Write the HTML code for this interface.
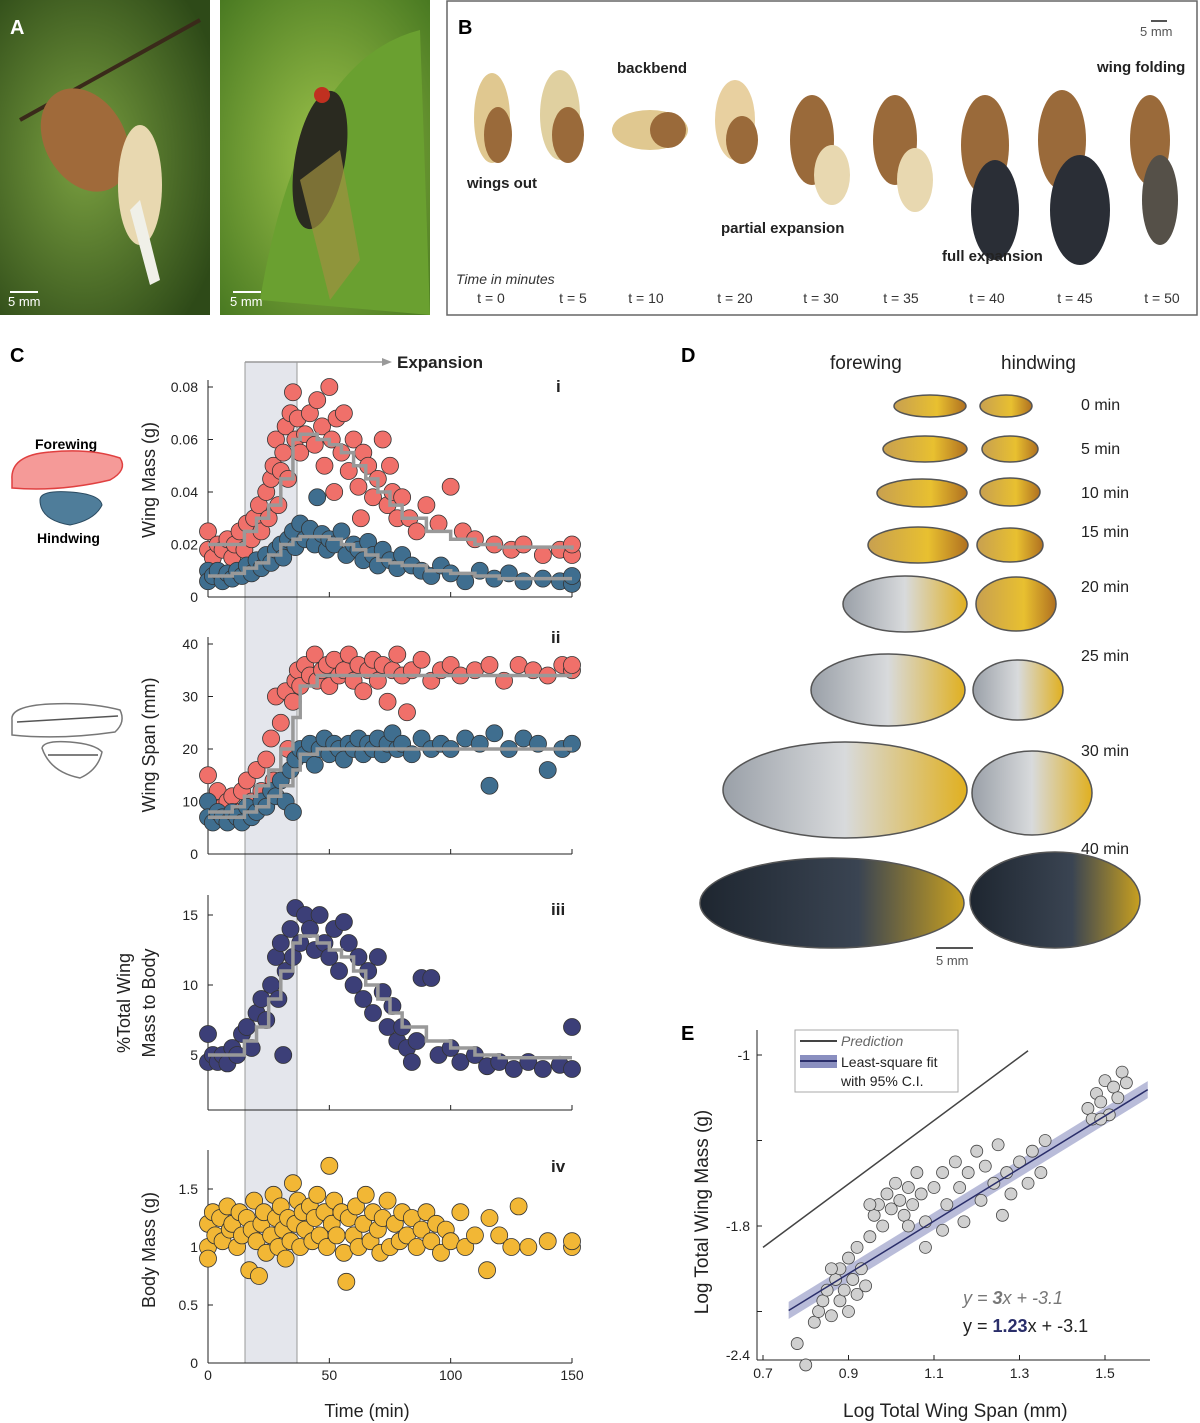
<!DOCTYPE html>
<html><head><meta charset="utf-8"><style>
body{margin:0;background:#fff;}
svg{display:block;font-family:"Liberation Sans",Arial,sans-serif;}
</style></head><body>
<svg id="fig" width="1200" height="1423" viewBox="0 0 1200 1423" xmlns="http://www.w3.org/2000/svg">
<defs>
<radialGradient id="g1" cx="0.4" cy="0.5" r="0.7"><stop offset="0" stop-color="#7aa040"/><stop offset="1" stop-color="#2e4a18"/></radialGradient>
<radialGradient id="g2" cx="0.5" cy="0.5" r="0.7"><stop offset="0" stop-color="#9cc24a"/><stop offset="1" stop-color="#4a7a22"/></radialGradient>
<linearGradient id="wingD" x1="0" x2="1"><stop offset="0" stop-color="#1e2630"/><stop offset="0.6" stop-color="#3a4452"/><stop offset="1" stop-color="#c8a020"/></linearGradient>
<linearGradient id="wingS" x1="0" x2="1"><stop offset="0" stop-color="#9aa0a8"/><stop offset="0.5" stop-color="#d8dadc"/><stop offset="1" stop-color="#e0b020"/></linearGradient>
<linearGradient id="wingY" x1="0" x2="1"><stop offset="0" stop-color="#c8a050"/><stop offset="0.6" stop-color="#e8c030"/><stop offset="1" stop-color="#b07020"/></linearGradient>
</defs>
<!-- Panel A -->
<g>
<rect x="0" y="0" width="210" height="315" fill="url(#g1)"/>
<path d="M20 120 L200 20" stroke="#3a2a1a" stroke-width="4"/>
<ellipse cx="85" cy="140" rx="40" ry="55" fill="#a06a3a" transform="rotate(-30 85 140)"/>
<ellipse cx="140" cy="185" rx="22" ry="60" fill="#e8d8b0"/>
<path d="M140 200 L160 280 L150 285 L130 210 Z" fill="#f0f0e8"/>
<rect x="220" y="0" width="210" height="315" fill="url(#g2)"/>
<path d="M260 300 Q300 60 420 30 L430 315 Z" fill="#6aa030"/>
<ellipse cx="320" cy="160" rx="25" ry="70" fill="#2a2a20" transform="rotate(10 320 160)"/>
<path d="M300 180 L330 300 L360 260 L340 150 Z" fill="#a09040" opacity="0.7"/>
<circle cx="322" cy="95" r="8" fill="#c03020"/>
<text x="10" y="34" font-size="20" font-weight="bold" fill="#fff">A</text>
<rect x="10" y="291" width="28" height="2" fill="#fff"/><text x="8" y="306" font-size="13" fill="#fff">5 mm</text>
<rect x="233" y="291" width="28" height="2" fill="#fff"/><text x="230" y="306" font-size="13" fill="#fff">5 mm</text>
</g>
<!-- Panel B -->
<g>
<rect x="447" y="1" width="750" height="314" fill="#fff" stroke="#666" stroke-width="1.5"/>
<text x="458" y="34" font-size="20" font-weight="bold">B</text>
<rect x="1151" y="20" width="16" height="2" fill="#555"/><text x="1140" y="36" font-size="13" fill="#555">5 mm</text>
<g fill="#9a6a3a">
<ellipse cx="492" cy="118" rx="18" ry="45" fill="#e0c890"/><ellipse cx="498" cy="135" rx="14" ry="28"/>
<ellipse cx="560" cy="115" rx="20" ry="45" fill="#e0d0a0"/><ellipse cx="568" cy="135" rx="16" ry="28"/>
<ellipse cx="650" cy="130" rx="38" ry="20" fill="#e0c890"/><ellipse cx="668" cy="130" rx="18" ry="18"/>
<ellipse cx="735" cy="120" rx="20" ry="40" fill="#e8d0a0"/><ellipse cx="742" cy="140" rx="16" ry="24"/>
<ellipse cx="812" cy="140" rx="22" ry="45"/><ellipse cx="832" cy="175" rx="18" ry="30" fill="#e8d8b0"/>
<ellipse cx="895" cy="140" rx="22" ry="45"/><ellipse cx="915" cy="180" rx="18" ry="32" fill="#e8d8b0"/>
<ellipse cx="985" cy="145" rx="24" ry="50"/><ellipse cx="995" cy="210" rx="24" ry="50" fill="#2a2e36"/>
<ellipse cx="1062" cy="140" rx="24" ry="50"/><ellipse cx="1080" cy="210" rx="30" ry="55" fill="#2a2e36"/>
<ellipse cx="1150" cy="140" rx="20" ry="45"/><ellipse cx="1160" cy="200" rx="18" ry="45" fill="#555048"/>
</g>
<g font-size="15" font-weight="bold" fill="#222">
<text x="467" y="188">wings out</text><text x="617" y="73">backbend</text>
<text x="721" y="233">partial expansion</text><text x="942" y="261">full expansion</text>
<text x="1097" y="72">wing folding</text></g>
<text x="456" y="284" font-size="14" font-style="italic" fill="#333">Time in minutes</text>
<g font-size="14" fill="#333" text-anchor="middle">
<text x="491" y="303">t = 0</text><text x="573" y="303">t = 5</text><text x="646" y="303">t = 10</text><text x="735" y="303">t = 20</text><text x="821" y="303">t = 30</text><text x="901" y="303">t = 35</text><text x="987" y="303">t = 40</text><text x="1075" y="303">t = 45</text><text x="1162" y="303">t = 50</text></g>
</g>
<!-- Panel C static -->
<g>
<text x="10" y="362" font-size="20" font-weight="bold">C</text>
<rect x="245" y="362" width="52" height="1001" fill="#e4e6ec"/>
<line x1="245" y1="362" x2="245" y2="1363" stroke="#999"/><line x1="297" y1="362" x2="297" y2="1363" stroke="#999"/>
<line x1="245" y1="362" x2="385" y2="362" stroke="#999" stroke-width="1.5"/><path d="M392 362 L382 358 L382 366 Z" fill="#999"/>
<text x="397" y="368" font-size="17" font-weight="bold" fill="#222">Expansion</text>
<text x="35" y="449" font-size="14" font-weight="bold">Forewing</text>
<path d="M12 480 Q10 455 50 452 Q90 448 120 458 Q128 470 110 480 Q60 492 12 488 Z" fill="#f59a98" stroke="#e04040" stroke-width="1.5"/>
<path d="M40 500 Q40 490 70 492 Q100 494 102 505 Q95 520 70 525 Q40 520 40 500 Z" fill="#4f7d9a" stroke="#2a4a60"/>
<text x="37" y="543" font-size="14" font-weight="bold">Hindwing</text>
<path d="M12 720 Q10 706 50 704 Q90 702 120 710 Q126 722 115 732 Q60 740 12 735 Z" fill="none" stroke="#777" stroke-width="1.5"/>
<line x1="17" y1="722" x2="118" y2="716" stroke="#555" stroke-width="1.5"/>
<path d="M42 748 Q44 740 70 742 Q95 744 102 752 Q98 770 80 778 Q50 772 42 748 Z" fill="none" stroke="#777" stroke-width="1.5"/>
<line x1="48" y1="755" x2="98" y2="755" stroke="#555" stroke-width="1.5"/>
<g font-size="17" font-weight="bold" fill="#222"><text x="556" y="392">i</text><text x="551" y="643">ii</text><text x="551" y="915">iii</text><text x="551" y="1172">iv</text></g>
<g font-size="18" fill="#222" text-anchor="middle">
<text transform="translate(155,480) rotate(-90)">Wing Mass (g)</text>
<text transform="translate(155,745) rotate(-90)">Wing Span (mm)</text>
<text transform="translate(130,1003) rotate(-90)">%Total Wing</text>
<text transform="translate(155,1003) rotate(-90)">Mass to Body</text>
<text transform="translate(155,1250) rotate(-90)">Body Mass (g)</text>
<text x="367" y="1417">Time (min)</text></g>
</g>
<!-- Panel D -->
<g>
<text x="681" y="362" font-size="20" font-weight="bold">D</text>
<text x="830" y="369" font-size="19" fill="#222">forewing</text><text x="1001" y="369" font-size="19" fill="#222">hindwing</text>
<g font-size="16" fill="#222"><text x="1081" y="410">0 min</text><text x="1081" y="454">5 min</text><text x="1081" y="498">10 min</text><text x="1081" y="537">15 min</text><text x="1081" y="592">20 min</text><text x="1081" y="661">25 min</text><text x="1081" y="756">30 min</text><text x="1081" y="854">40 min</text></g>
<g stroke="#555" stroke-width="1.5">
<ellipse cx="930" cy="406" rx="36" ry="11" fill="url(#wingY)"/><ellipse cx="1006" cy="406" rx="26" ry="11" fill="url(#wingY)"/>
<ellipse cx="925" cy="449" rx="42" ry="13" fill="url(#wingY)"/><ellipse cx="1010" cy="449" rx="28" ry="13" fill="url(#wingY)"/>
<ellipse cx="922" cy="493" rx="45" ry="14" fill="url(#wingY)"/><ellipse cx="1010" cy="492" rx="30" ry="14" fill="url(#wingY)"/>
<ellipse cx="918" cy="545" rx="50" ry="18" fill="url(#wingY)"/><ellipse cx="1010" cy="545" rx="33" ry="17" fill="url(#wingY)"/>
<ellipse cx="905" cy="604" rx="62" ry="28" fill="url(#wingS)"/><ellipse cx="1016" cy="604" rx="40" ry="27" fill="url(#wingY)"/>
<ellipse cx="888" cy="690" rx="77" ry="36" fill="url(#wingS)"/><ellipse cx="1018" cy="690" rx="45" ry="30" fill="url(#wingS)"/>
<ellipse cx="845" cy="790" rx="122" ry="48" fill="url(#wingS)"/><ellipse cx="1032" cy="793" rx="60" ry="42" fill="url(#wingS)"/>
<ellipse cx="832" cy="903" rx="132" ry="45" fill="url(#wingD)"/><ellipse cx="1055" cy="900" rx="85" ry="48" fill="url(#wingD)"/>
</g>
<rect x="936" y="947" width="37" height="2" fill="#555"/><text x="936" y="965" font-size="13" fill="#555">5 mm</text>
</g>
<!-- Panel E static -->
<g>
<text x="681" y="1040" font-size="20" font-weight="bold">E</text>
<text x="843" y="1417" font-size="19" fill="#222">Log Total Wing Span (mm)</text>
<text transform="translate(708,1212) rotate(-90)" font-size="19" fill="#222" text-anchor="middle">Log Total Wing Mass (g)</text>
<text x="963" y="1304" font-size="18" font-style="italic" fill="#777">y = <tspan font-weight="bold">3</tspan>x + -3.1</text>
<text x="963" y="1332" font-size="18" fill="#222">y = <tspan font-weight="bold" fill="#2a2e6a">1.23</tspan>x + -3.1</text>
</g>
<g id="dyn"></g>
</svg>
<script>
// ---- Panel C data ----
const trendTimes=[0,10,15,20,25,30,35,38,45,50,55,60,65,70,75,80,90,100,110,120,150];
const foreMassTrend=[0.02,0.02,0.025,0.03,0.035,0.045,0.06,0.062,0.06,0.058,0.055,0.05,0.045,0.04,0.035,0.03,0.025,0.022,0.02,0.019,0.018];
const hindMassTrend=[0.008,0.009,0.011,0.013,0.016,0.02,0.022,0.023,0.023,0.022,0.02,0.018,0.016,0.014,0.013,0.012,0.01,0.009,0.008,0.007,0.007];
const foreSpanTrend=[8,9,11,13,16,20,26,32,34,34,34,34,34,34,34,34,34,34,34,34,34];
const hindSpanTrend=[7,7,8,9,11,13,16,19,20,20,20,20,20,20,20,20,20,20,20,20,20];
const ratioTrend=[5,5,6,7,9,11,13,13.5,13,12.5,12,11,10,9,8,7,6,5.5,5,4.8,4.8];
const foreMass=[[0,.025],[0,.018],[2,.015],[4,.02],[6,.018],[8,.022],[10,.015],[11,.02],[13,.025],[15,.018],[16,.028],[18,.022],[19,.03],[21,.035],[22,.025],[24,.04],[25,.03],[26,.045],[27,.05],[28,.06],[29,.035],[30,.048],[31,.055],[32,.065],[33,.045],[34,.07],[35,.078],[36,.06],[37,.068],[38,.055],[40,.062],[42,.07],[44,.058],[45,.075],[47,.065],[48,.05],[50,.08],[51,.06],[53,.068],[55,.055],[56,.07],[58,.048],[60,.06],[62,.042],[64,.055],[66,.05],[68,.038],[70,.045],[72,.06],[74,.035],[76,.04],[78,.03],[80,.038],[83,.03],[86,.025],[90,.035],[95,.028],[100,.042],[105,.025],[110,.022],[118,.02],[125,.018],[130,.02],[138,.016],[145,.018],[150,.016],[150,.02],[52,.04],[63,.03],[75,.05]];
const hindMass=[[0,.01],[0,.006],[2,.008],[4,.01],[6,.006],[8,.009],[10,.007],[12,.01],[14,.008],[16,.012],[18,.009],[20,.014],[22,.011],[24,.016],[26,.013],[28,.018],[30,.02],[31,.015],[33,.022],[35,.025],[36,.019],[38,.028],[40,.022],[42,.026],[44,.02],[45,.038],[47,.024],[49,.018],[50,.022],[52,.02],[55,.025],[57,.016],[60,.02],[62,.018],[64,.014],[66,.021],[68,.016],[70,.012],[72,.018],[75,.014],[78,.011],[80,.016],[84,.012],[88,.01],[92,.008],[96,.012],[100,.009],[106,.006],[112,.01],[118,.007],[124,.009],[130,.006],[138,.007],[145,.006],[150,.005],[150,.008]];
const foreSpan=[[0,15],[0,10],[2,8],[4,12],[6,9],[8,10],[10,11],[12,8],[14,12],[16,14],[18,10],[20,16],[22,12],[24,18],[26,22],[27,14],[28,30],[30,25],[32,31],[33,20],[35,29],[36,33],[37,35],[38,32],[40,36],[42,34],[44,38],[45,33],[47,35],[49,36],[50,32],[52,37],[54,34],[56,35],[58,38],[60,33],[62,36],[64,31],[66,35],[68,37],[70,33],[72,36],[74,29],[76,35],[78,38],[80,34],[82,27],[84,35],[88,37],[92,33],[96,35],[100,36],[104,34],[110,35],[116,36],[122,33],[128,36],[134,35],[140,34],[146,36],[150,35],[150,36]];
const hindSpan=[[0,10],[0,7],[2,6],[4,8],[6,7],[8,6],[10,8],[12,7],[14,6],[16,9],[18,7],[20,8],[22,10],[24,9],[26,12],[28,11],[30,14],[32,10],[34,16],[35,8],[36,18],[38,20],[40,19],[42,21],[44,17],[46,20],[48,22],[50,19],[52,21],[54,20],[56,18],[58,21],[60,20],[62,22],[64,19],[66,21],[68,20],[70,22],[72,19],[74,21],[76,23],[78,20],[80,21],[84,19],[88,22],[92,20],[96,21],[100,20],[106,22],[112,21],[116,13],[118,23],[124,20],[130,22],[136,21],[140,16],[146,20],[150,21]];
const massRatio=[[0,6.5],[0,4.5],[2,5],[4,4.5],[6,5],[8,4.4],[10,5.5],[12,5],[14,6.5],[16,7],[18,5.5],[20,8],[22,9],[24,7.5],[26,10],[28,12],[29,9],[30,13],[31,5],[32,11],[34,14],[35,12],[36,15.5],[38,13],[40,15],[42,14],[44,12.5],[46,15],[48,13],[50,12],[52,14],[54,11],[56,14.5],[58,13],[60,10],[62,12],[64,9],[66,11],[68,8],[70,12],[72,9.5],[74,7],[76,8.5],[78,6],[80,7],[82,5.5],[84,4.5],[86,6],[88,10.5],[92,10.5],[95,5],[100,5.5],[104,4.5],[110,5],[115,4.2],[120,4.5],[126,4],[132,4.5],[138,4],[145,4.3],[150,7],[150,4]];
const bodyMass=[[0,1.2],[0,1.0],[0,0.9],[2,1.3],[3,1.1],[5,1.25],[6,1.05],[8,1.35],[9,1.15],[10,1.2],[12,1.0],[13,1.3],[14,1.1],[16,1.25],[17,0.8],[18,1.15],[19,1.4],[20,1.05],[21,0.75],[22,1.2],[23,1.3],[24,0.95],[26,1.1],[27,1.45],[28,1.25],[29,1.0],[30,1.35],[31,1.15],[32,0.9],[33,1.25],[34,1.05],[35,1.55],[36,1.2],[37,1.4],[38,1.0],[39,1.3],[40,1.15],[42,1.35],[43,1.05],[44,1.25],[45,1.45],[46,1.1],[48,1.3],[49,1.0],[50,1.7],[51,1.2],[52,1.4],[53,1.1],[55,1.3],[56,0.95],[57,0.7],[58,1.25],[60,1.1],[61,1.35],[62,1.0],[64,1.2],[65,1.45],[67,1.05],[68,1.3],[70,1.15],[71,0.95],[72,1.25],[74,1.4],[75,1.0],[77,1.2],[79,1.05],[80,1.3],[82,1.1],[84,1.25],[86,1.0],[88,1.15],[90,1.3],[92,1.05],[94,1.2],[96,0.95],[98,1.15],[100,1.05],[104,1.3],[106,1.0],[110,1.1],[115,0.8],[116,1.25],[120,1.1],[125,1.0],[128,1.35],[132,1.0],[140,1.05],[150,1.0],[150,1.05]];
const timeTicks=[0,50,100,150];
const massTicks=[0,0.02,0.04,0.06,0.08];
const massTickLabels=['0','0.02','0.04','0.06','0.08'];
const spanTicks=[0,10,20,30,40];
const ratioTicks=[5,10,15];
const bodyTicks=[0,0.5,1,1.5];
const bodyTickLabels=['0','0.5','1','1.5'];
// ---- Panel E data ----
const logSpan=[0.78,0.82,0.83,0.84,0.85,0.86,0.87,0.88,0.88,0.89,0.9,0.9,0.91,0.92,0.92,0.93,0.94,0.95,0.96,0.97,0.98,0.99,1.0,1.01,1.02,1.03,1.04,1.05,1.06,1.07,1.08,1.08,1.1,1.12,1.13,1.15,1.16,1.17,1.18,1.2,1.21,1.22,1.24,1.25,1.26,1.27,1.28,1.3,1.32,1.33,1.35,1.36,1.46,1.47,1.48,1.49,1.5,1.51,1.52,1.53,1.54,1.55,1.49,0.8,0.86,0.95,1.04,1.12];
const logMass=[-2.35,-2.25,-2.2,-2.15,-2.1,-2.22,-2.05,-2.15,-2.0,-2.1,-1.95,-2.2,-2.05,-1.9,-2.12,-2.0,-2.08,-1.85,-1.75,-1.7,-1.8,-1.65,-1.72,-1.6,-1.68,-1.75,-1.62,-1.7,-1.55,-1.65,-1.78,-1.9,-1.62,-1.55,-1.7,-1.5,-1.62,-1.78,-1.55,-1.45,-1.68,-1.52,-1.6,-1.42,-1.75,-1.55,-1.65,-1.5,-1.6,-1.45,-1.55,-1.4,-1.25,-1.3,-1.18,-1.22,-1.12,-1.28,-1.15,-1.2,-1.08,-1.13,-1.3,-2.45,-2.0,-1.7,-1.8,-1.82];
const fitSlope=1.23, fitIntercept=-3.13;
const predLine=[[0.7,-1.9],[1.32,-0.98]];
const eXTicks=[0.7,0.9,1.1,1.3,1.5];
const eYTicks=[-1,-1.4,-1.8,-2.2];
const eYLabels=['-1','','-1.8',''];

const NS='http://www.w3.org/2000/svg';
const root=document.getElementById('dyn');
function mk(tag,attrs,parent){const e=document.createElementNS(NS,tag);for(const k in attrs)e.setAttribute(k,attrs[k]);(parent||root).appendChild(e);return e;}
const xT=t=>208+t*364/150;

function axes(name,yTop,yBot,yScale,ticks,labels,showX){
  const g=mk('g',{});
  
  
  mk('line',{x1:208,y1:yTop,x2:208,y2:yBot,stroke:'#222'},g);
  mk('line',{x1:208,y1:yBot,x2:572,y2:yBot,stroke:'#222'},g);
  ticks.forEach((v,i)=>{const y=yScale(v);mk('line',{x1:208,y1:y,x2:213,y2:y,stroke:'#222'},g);
    const t=mk('text',{x:198,y:y+5,'font-size':14,'text-anchor':'end',fill:'#222'},g);t.textContent=labels?labels[i]:String(v);});
  timeTicks.forEach(v=>{mk('line',{x1:xT(v),y1:yBot,x2:xT(v),y2:yBot-5,stroke:'#222'},g);
    if(showX){const t=mk('text',{x:xT(v),y:yBot+17,'font-size':14,'text-anchor':'middle',fill:'#222'},g);t.textContent=v;}});
}
function trend(name,vals,yScale){
  let d='';trendTimes.forEach((t,i)=>{const x=xT(t),y=yScale(vals[i]);
    if(i===0)d+='M'+x+' '+y;else d+=' L'+x+' '+yScale(vals[i-1])+' L'+x+' '+y;});
  const p=mk('path',{d:d,fill:'none',stroke:'#999','stroke-width':3.5});
  
  
}
function dots(name,pts,yScale,fill){
  const g=mk('g',{});
  
  
  pts.forEach(p=>{const c=mk('circle',{cx:xT(p[0]),cy:yScale(p[1]),r:8.5,fill:fill,stroke:'#333','stroke-width':0.8},g);
    
    });
}
const y1=v=>597-v/0.08*210, y2=v=>854-v/40*210, y3=v=>1055-(v-5)*14, y4=v=>1363-v*116;
axes('wing-mass',380,597,y1,massTicks,massTickLabels,false);
axes('wing-span',637,854,y2,spanTicks,null,false);
axes('mass-ratio',895,1110,y3,ratioTicks,null,false);
axes('body-mass',1150,1363,y4,bodyTicks,bodyTickLabels,true);
dots('forewing-mass',foreMass,y1,'#f0706a');
dots('hindwing-mass',hindMass,y1,'#3f6e8f');
trend('forewing-mass-trend',foreMassTrend,y1);
trend('hindwing-mass-trend',hindMassTrend,y1);
dots('forewing-span',foreSpan,y2,'#f0706a');
dots('hindwing-span',hindSpan,y2,'#3f6e8f');
trend('forewing-span-trend',foreSpanTrend,y2);
trend('hindwing-span-trend',hindSpanTrend,y2);
dots('mass-ratio',massRatio,y3,'#3c3f78');
trend('mass-ratio-trend',ratioTrend,y3);
dots('body-mass',bodyMass,y4,'#f2b735');

// Panel E
const ex=v=>763+(v-0.7)*427.5, ey=v=>1055-(v+1)*213.75;
const ge=mk('g',{});


mk('line',{x1:757,y1:1030,x2:757,y2:1360,stroke:'#222'},ge);
mk('line',{x1:757,y1:1360,x2:1150,y2:1360,stroke:'#222'},ge);
eXTicks.forEach(v=>{mk('line',{x1:ex(v),y1:1360,x2:ex(v),y2:1355,stroke:'#222'},ge);
  const t=mk('text',{x:ex(v),y:1378,'font-size':14,'text-anchor':'middle',fill:'#222'},ge);t.textContent=v.toFixed(1);});
eYTicks.forEach((v,i)=>{mk('line',{x1:757,y1:ey(v),x2:762,y2:ey(v),stroke:'#222'},ge);
  const t=mk('text',{x:750,y:ey(v)+5,'font-size':14,'text-anchor':'end',fill:'#222'},ge);t.textContent=eYLabels[i];});
const tl=mk('text',{x:750,y:1360,'font-size':14,'text-anchor':'end',fill:'#222'},ge);tl.textContent='-2.4';
const pl=mk('line',{x1:ex(predLine[0][0]),y1:ey(predLine[0][1]),x2:ex(predLine[1][0]),y2:ey(predLine[1][1]),stroke:'#444','stroke-width':1.5});


const fx0=0.76,fx1=1.6;
const band=mk('polygon',{points:[[ex(fx0),ey(fitSlope*fx0+fitIntercept-0.04)],[ex(fx1),ey(fitSlope*fx1+fitIntercept-0.04)],[ex(fx1),ey(fitSlope*fx1+fitIntercept+0.04)],[ex(fx0),ey(fitSlope*fx0+fitIntercept+0.04)]].map(p=>p.join(',')).join(' '),fill:'#8a8fc0',opacity:0.6});


const ge2=mk('g',{});


logSpan.forEach((v,i)=>{const c=mk('circle',{cx:ex(v),cy:ey(logMass[i]),r:6,fill:'#d0d0d0',stroke:'#444','stroke-width':0.8},ge2);
  
  });
const fl=mk('line',{x1:ex(fx0),y1:ey(fitSlope*fx0+fitIntercept),x2:ex(fx1),y2:ey(fitSlope*fx1+fitIntercept),stroke:'#2a2e6a','stroke-width':1.5});


// legend
const lg=mk('g',{});


mk('rect',{x:795,y:1030,width:163,height:62,fill:'#fff',stroke:'#aaa'},lg);
mk('line',{x1:800,y1:1041,x2:837,y2:1041,stroke:'#444','stroke-width':2},lg);
const l1=mk('text',{x:841,y:1046,'font-size':14,'font-style':'italic',fill:'#666'},lg);l1.textContent='Prediction';
mk('rect',{x:800,y:1055,width:37,height:13,fill:'#8a8fc0'},lg);
mk('line',{x1:800,y1:1061,x2:837,y2:1061,stroke:'#2a2e6a','stroke-width':2},lg);
const l2=mk('text',{x:841,y:1067,'font-size':14,fill:'#222'},lg);l2.textContent='Least-square fit';
const l3=mk('text',{x:841,y:1086,'font-size':14,fill:'#222'},lg);l3.textContent='with 95% C.I.';
</script>
</body></html>
